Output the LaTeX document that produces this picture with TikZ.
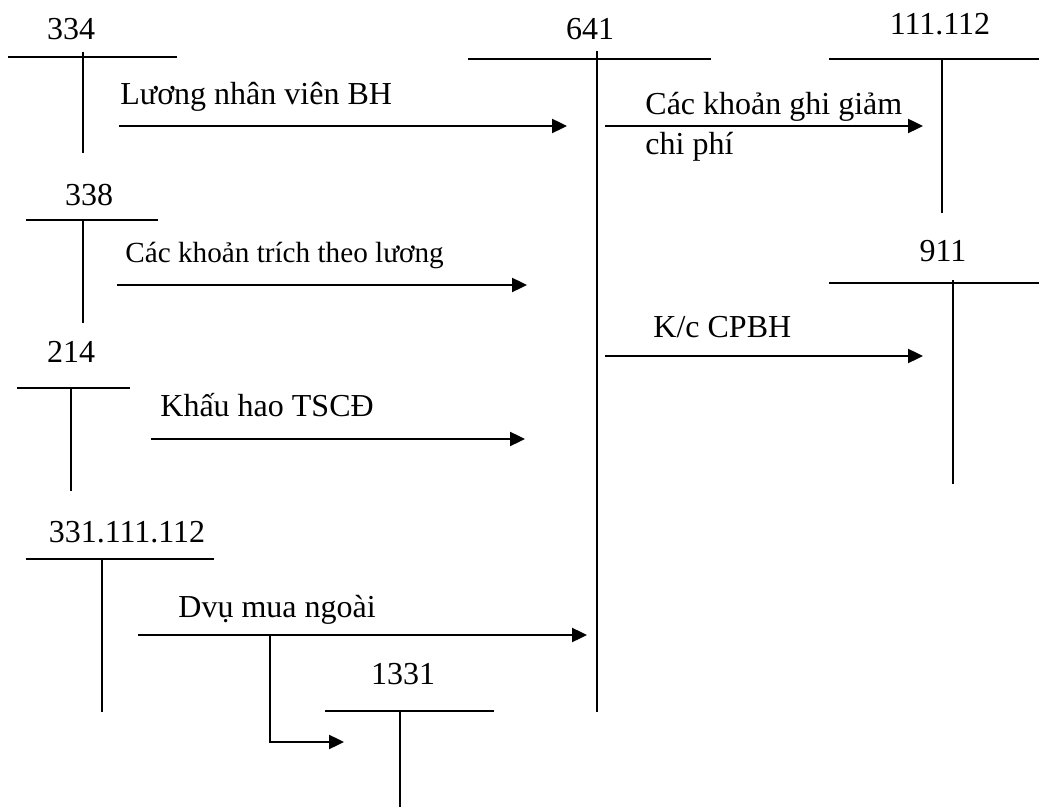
\documentclass[tikz,border=0pt]{standalone}
\usepackage{fontspec}
\setmainfont{Liberation Serif}
\usetikzlibrary{arrows.meta}

\begin{document}
\begin{tikzpicture}[x=0.5pt,y=-0.5pt,>={Triangle[length=7.5pt,width=7pt]},
    every node/.style={font=\fontsize{16}{20}\selectfont,inner sep=0pt},
    acct/.style={anchor=base},
    note/.style={anchor=base west,align=left},
    tline/.style={line width=1pt},
    flow/.style={->,line width=1.2pt}]
    \useasboundingbox (0,0) rectangle (1039,807);
    % T accounts
    \node[acct] (n334) at (71,40) {334};
    \draw[tline] (8,57) -- (177,57) (83,52) -- (83,153);
    \node[acct] (n641) at (590,40) {641};
    \draw[tline] (468,59) -- (711,59) (597,51) -- (597,712);
    \node[acct] (n111) at (940,35) {111.112};
    \draw[tline] (829,59) -- (1039,59) (942,59) -- (942,213);
    \node[acct] (n338) at (89,206) {338};
    \draw[tline] (26,220) -- (158,220) (83,220) -- (83,323);
    \node[acct] (n911) at (943,262) {911};
    \draw[tline] (829,283) -- (1039,283) (953,280) -- (953,484);
    \node[acct] (n214) at (71,363) {214};
    \draw[tline] (17,388) -- (130,388) (71,388) -- (71,491);
    \node[acct] (n331) at (127,542) {331.111.112};
    \draw[tline] (26,559) -- (214,559) (102,559) -- (102,712);
    \node[acct] (n1331) at (403,684) {1331};
    \draw[tline] (325,711) -- (494,711) (400,711) -- (400,807);
    % arrow ends
    \coordinate (luongS) at (119,126);  \coordinate (luongE) at (567,126);
    \coordinate (giamS) at (605,126);   \coordinate (giamE) at (923,126);
    \coordinate (trichS) at (117,285);  \coordinate (trichE) at (527,285);
    \coordinate (kcS) at (605,356);     \coordinate (kcE) at (923,356);
    \coordinate (khauS) at (151,439);   \coordinate (khauE) at (525,439);
    \coordinate (dvuS) at (138,635);    \coordinate (dvuE) at (587,635);
    \coordinate (vatS) at (270,635);    \coordinate (vatE) at (344,742);
    \draw[flow] (luongS) -- (luongE);
    \draw[flow] (giamS) -- (giamE);
    \draw[flow] (trichS) -- (trichE);
    \draw[flow] (kcS) -- (kcE);
    \draw[flow] (khauS) -- (khauE);
    \draw[flow] (dvuS) -- (dvuE);
    \draw[flow] (vatS) |- (vatE);
    % labels
    \node[note] (luong) at (120,105) {Lương nhân viên BH};
    \node[note] (giam) at (645,155) {Các khoản ghi giảm\\chi phí};
    \node[note,font=\fontsize{14.6}{18}\selectfont] (trich) at (125,263) {Các khoản trích theo lương};
    \node[note] (kc) at (653,338) {K/c CPBH};
    \node[note] (khau) at (160,417) {Khấu hao TSCĐ};
    \node[note] (dvu) at (178,617) {Dvụ mua ngoài};
\end{tikzpicture}
\end{document}
